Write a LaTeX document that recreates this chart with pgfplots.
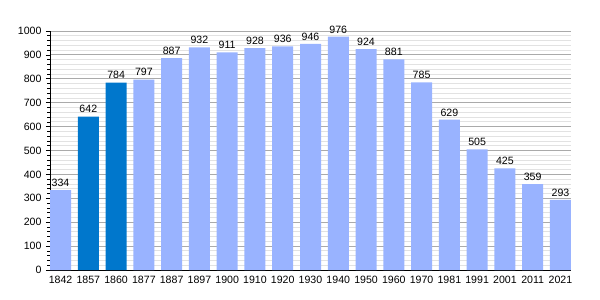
\documentclass[border=0pt]{standalone}
\usepackage{pgfplots}
\pgfplotsset{compat=1.18}
\usepackage{fontspec}
\setmainfont{Liberation Sans}
\definecolor{light}{HTML}{99B3FF}
\definecolor{dark}{HTML}{0077CC}
\definecolor{majgrid}{HTML}{AAAAAA}
\definecolor{mingrid}{HTML}{E2E2E2}
\begin{document}
\begin{tikzpicture}[x=1pt,y=1pt]
\path[use as bounding box] (-50,-30) rectangle (550,270);
\begin{axis}[
  at={(0,0)}, anchor=south west,
  scale only axis, width=521pt, height=239pt,
  ymin=0, ymax=1000, xmin=-0.38, xmax=18.38,
  ytick distance=100, minor y tick num=4,
  ymajorgrids, yminorgrids,
  major grid style={majgrid, line width=0.8pt},
  minor grid style={mingrid, line width=0.8pt},
  axis x line*=bottom, axis y line*=left,
  axis line style={black, line width=0.8pt, -},
  xtick={0,...,18},
  xticklabels={1842,1857,1860,1877,1887,1897,1900,1910,1920,1930,1940,1950,1960,1970,1981,1991,2001,2011,2021},
  x tick style={draw=none},
  y tick style={black, line width=0.6pt},
  tick align=outside, major tick length=4pt, minor tick length=2.5pt,
  ticklabel style={font=\fontsize{10.6}{12}\selectfont},
  /pgf/number format/assume math mode=true,
  /pgf/number format/1000 sep={},
  xticklabel style={yshift=1pt},
  yticklabel style={xshift=-1pt},
  ybar, bar width=21pt, bar shift=0pt,
  nodes near coords,
  every node near coord/.style={font=\fontsize{10.6}{12}\selectfont, black, yshift=0pt},
  clip=false,
]
\addplot[fill=light, draw=none] coordinates {
(0,334) (3,797) (4,887) (5,932) (6,911) (7,928) (8,936) (9,946) (10,976) (11,924) (12,881) (13,785) (14,629) (15,505) (16,425) (17,359) (18,293)};
\addplot[fill=dark, draw=none] coordinates {(1,642) (2,784)};
\end{axis}
\end{tikzpicture}
\end{document}
